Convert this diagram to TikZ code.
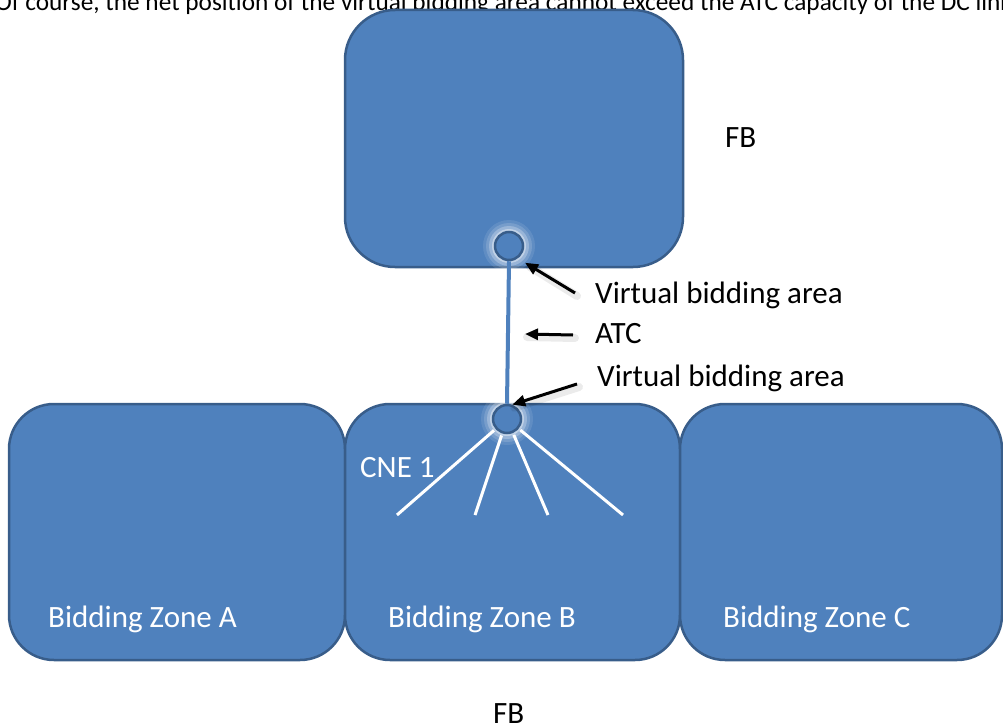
\documentclass[tikz,border=0pt]{standalone}
\usepackage{fontspec}
\setmainfont{Carlito}
\usetikzlibrary{arrows.meta,calc}
\definecolor{zfill}{HTML}{4F81BD}
\definecolor{zline}{HTML}{385D8A}
\begin{document}
\begin{tikzpicture}[x=1pt,y=-1pt,
 zone/.style={draw=zline, line width=2.5pt, fill=zfill, rounded corners=45pt, inner sep=0pt, minimum height=256pt},
 vba/.style={circle, draw=zline, line width=2.5pt, fill=zfill, minimum size=28pt, inner sep=0pt},
 lbl/.style={font=\fontsize{31}{37}\selectfont, inner sep=0pt, anchor=base west},
 wlbl/.style={lbl, text=white},
 arr/.style={line width=3pt, -{Triangle[length=13pt,width=11pt]}},
 arrshadow/.style={line width=8pt, black, opacity=0.08, line cap=round},
 cne/.style={white, line width=3pt},
 atc/.style={zfill, line width=4pt}]
\useasboundingbox (0,0) rectangle (1003,725);
\clip (0,0) rectangle (1003,725);
% caption (cut at top)
\node[lbl, font=\fontsize{25.3}{30}\selectfont] (cap) at (-5,11) {Of course, the net position of the virtual bidding area cannot exceed the ATC capacity of the DC link};
% top FB box
\node[zone, minimum width=338pt, minimum height=257pt, rounded corners=50pt] (fbtop) at (514,138.5) {};
\coordinate (cvt) at (509,246);
\foreach \r/\o in {26/0.1,23/0.15,20/0.25,17/0.4}
  \fill[white, opacity=\o] (cvt) circle (\r pt);
\node[vba] (vt) at (cvt) {};
% bidding zones
\node[zone, minimum width=336pt] (za) at (177,532) {};
\node[zone, minimum width=335pt] (zb) at (512.5,532) {};
\node[zone, minimum width=322pt] (zc) at (841,532) {};
\coordinate (cvb) at (507,419);
\foreach \r/\o in {26/0.1,23/0.15,20/0.25,17/0.4}
  \fill[white, opacity=\o] (cvb) circle (\r pt);
\node[vba] (vb) at (cvb) {};
% ATC line
\draw[atc] (vt.south) -- (vb.north);
% CNE lines
\coordinate (e1) at (397,515);
\coordinate (e2) at (475,515);
\coordinate (e3) at (548,515);
\coordinate (e4) at (623,515);
\foreach \e in {e1,e2,e3,e4}
  \draw[cne, shorten <=2pt] (vb) -- (\e);
% labels
\node[wlbl] (lcne) at (360,477) {CNE 1};
\node[wlbl] (la) at (48,627) {Bidding Zone A};
\node[wlbl] (lb) at (388,627) {Bidding Zone B};
\node[wlbl] (lc) at (723,627) {Bidding Zone C};
\node[lbl] (fb1) at (725,147) {FB};
\node[lbl] (fb2) at (493,723) {FB};
\node[lbl] (v1) at (595,303) {Virtual bidding area};
\node[lbl] (atcl) at (595,343) {ATC};
\node[lbl] (v2) at (597,386) {Virtual bidding area};
% arrows
\coordinate (t1) at (575,293);
\coordinate (t2) at (573,335);
\coordinate (h2) at (525,334);
\coordinate (t3) at (577,384);
\draw[arrshadow] ($(t1)+(2,3)$) -- ($(vt.-45)+(10,10)$);
\draw[arrshadow] ($(t2)+(2,3)$) -- ($(h2)+(2,3)$);
\draw[arrshadow] ($(t3)+(2,3)$) -- ($(vb.70)+(2,3)$);
\draw[arr, shorten >=-2pt] (t1) -- ($(vt.-45)+(7,7)$);
\draw[arr] (t2) -- (h2);
\draw[arr] (t3) -- (vb.70);
\end{tikzpicture}
\end{document}
